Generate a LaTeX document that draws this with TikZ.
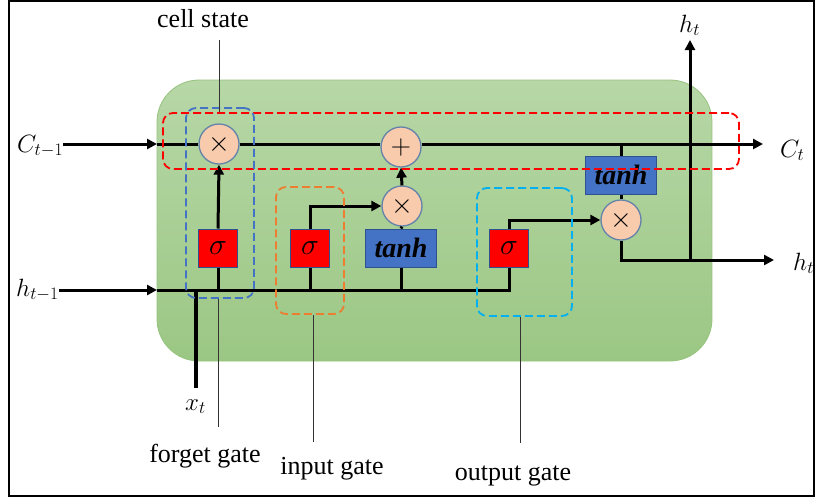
\RequirePackage{fix-cm}
\documentclass[tikz,border=0pt]{standalone}
\usepackage{fontspec}
\setmainfont{Liberation Serif}
\usetikzlibrary{arrows.meta}
\definecolor{gtop}{RGB}{183,215,167}
\definecolor{gbot}{RGB}{155,199,132}
\definecolor{gedge}{RGB}{150,195,125}
\definecolor{peach}{RGB}{248,203,173}
\definecolor{circedge}{RGB}{100,130,170}
\definecolor{boxedge}{RGB}{47,82,143}
\definecolor{tanhblue}{RGB}{68,114,196}
\definecolor{fgblue}{RGB}{68,114,196}
\definecolor{igorange}{RGB}{237,125,49}
\definecolor{ogcyan}{RGB}{0,176,240}
\tikzset{
  wire/.style={line width=3pt, black},
  arr/.style={wire, -{Triangle[length=10pt,width=10pt]}},
  circ/.style={circle, draw=circedge, line width=1.3pt, fill=peach, minimum size=40pt, inner sep=0pt, font=\fontsize{28}{28}\selectfont},
  sigbox/.style={rectangle, draw=boxedge, line width=1pt, fill=red, minimum width=39pt, minimum height=38pt, inner sep=0pt, font=\fontsize{30}{30}\selectfont},
  tanhbox/.style={rectangle, draw=boxedge, line width=1pt, fill=tanhblue, minimum width=71pt, minimum height=38pt, inner sep=0pt, font=\fontsize{28}{28}\selectfont\bfseries\itshape},
  dbox/.style={rectangle, dashed, dash pattern=on 8pt off 4pt, line width=1.8pt, rounded corners=10pt, inner sep=0pt},
  mlab/.style={inner sep=0pt, anchor=base west, font=\fontsize{25}{25}\selectfont},
  tlab/.style={inner sep=0pt, anchor=base, font=\fontsize{26}{26}\selectfont},
  thinline/.style={line width=0.8pt, black!80}
}
\begin{document}
\begin{tikzpicture}[x=1pt,y=-1pt]
\useasboundingbox (0,0) rectangle (815,499);
% frame
\draw[line width=2pt] (814,1) -- (9,1) -- (9,496) -- (814,496) -- cycle;
% green cell
\shade[top color=gtop, bottom color=gbot, rounded corners=42pt] (157,80) rectangle (712,361);
\draw[gedge, line width=0.8pt, rounded corners=42pt] (157,80) rectangle (712,361);

% operation nodes
\node[circ] (fx) at (219,144) {$\times$};
\node[circ] (plus) at (401,147) {$+$};
\node[circ] (ix) at (402,206) {$\times$};
\node[circ] (ox) at (621,220) {$\times$};
\node[sigbox] (fsig) at (218,248) {$\sigma$};
\node[sigbox] (isig) at (310,248) {$\sigma$};
\node[tanhbox] (itanh) at (401,248) {tanh};
\node[sigbox] (osig) at (509,248) {$\sigma$};
\node[tanhbox] (otanh) at (621,175) {tanh};

% labels
\node[mlab] (cin) at (17,152) {$C_{t-1}$};
\node[mlab] (hin) at (16,296) {$h_{t-1}$};
\node[mlab] (cout) at (780,157) {$C_t$};
\node[mlab] (hout) at (793,270) {$h_t$};
\node[mlab] (htopl) at (679,32) {$h_t$};
\node[mlab] (xl) at (185,410) {$x_t$};

% coordinates
\coordinate (cedge) at (157,144);
\coordinate (cend) at (763,144);
\coordinate (hedge) at (157,290);
\coordinate (xjoin) at (196,290);
\coordinate (xend) at (196,388);
\coordinate (houtend) at (774,260);
\coordinate (hvert) at (690,260);
\coordinate (htop) at (690,40);

% cell state line
\draw[arr] (cin.east |- cedge) -- (cedge);
\draw[wire] (cedge) -- (fx.west);
\draw[wire] (fx.east) -- (fx.east -| plus.west);
\draw[arr] (plus.east |- fx.east) -- (cend);
% hidden input
\draw[arr] (hin.east |- hedge) -- (hedge);
\draw[wire] (hedge) -| (osig.south);
\draw[line width=3.5pt] (xjoin) -- (xend);
% forget gate
\draw[wire] (fsig.south) -- (fsig.south |- hedge);
\draw[arr] (fsig.north) -- (fx.south);
% input gate
\draw[wire] (isig.south) -- (isig.south |- hedge);
\draw[arr] (isig.north) |- (ix.west);
\draw[wire] (itanh.south) -- (itanh.south |- hedge);
\draw[wire] (itanh.north) -- (ix.south);
\draw[arr] (ix.north) -- (plus.south);
% output gate
\draw[arr] (osig.north) |- (ox.west);
\draw[wire] (otanh.north) -- (otanh.north |- cedge);
\draw[wire] (otanh.south) -- (ox.north);
\draw[arr] (ox.south) |- (houtend);
\draw[arr] (hvert) -- (htop);

% dashed regions
\node[dbox, draw=red, minimum width=576pt, minimum height=56pt] (cellbox) at (451,141) {};
\node[dbox, draw=fgblue, minimum width=68pt, minimum height=190pt] (fgbox) at (220,203) {};
\node[dbox, draw=igorange, minimum width=68pt, minimum height=127pt] (igbox) at (310,250.5) {};
\node[dbox, draw=ogcyan, minimum width=95pt, minimum height=128pt] (ogbox) at (524.5,252) {};

% text labels
\node[tlab] (cs) at (203,27) {cell state};
\node[tlab] (fg) at (205,462) {forget gate};
\node[tlab] (ig) at (332,474) {input gate};
\node[tlab] (og) at (513,480) {output gate};
\coordinate (csl) at (219,40);
\coordinate (fgl) at (218,427);
\coordinate (igl) at (313,442);
\coordinate (ogl) at (520,443);
\draw[thinline] (csl) -- (csl |- cellbox.north);
\draw[thinline] (fgl |- fgbox.south) -- (fgl);
\draw[thinline] (igl |- igbox.south) -- (igl);
\draw[thinline] (ogl |- ogbox.south) -- (ogl);
\end{tikzpicture}
\end{document}
